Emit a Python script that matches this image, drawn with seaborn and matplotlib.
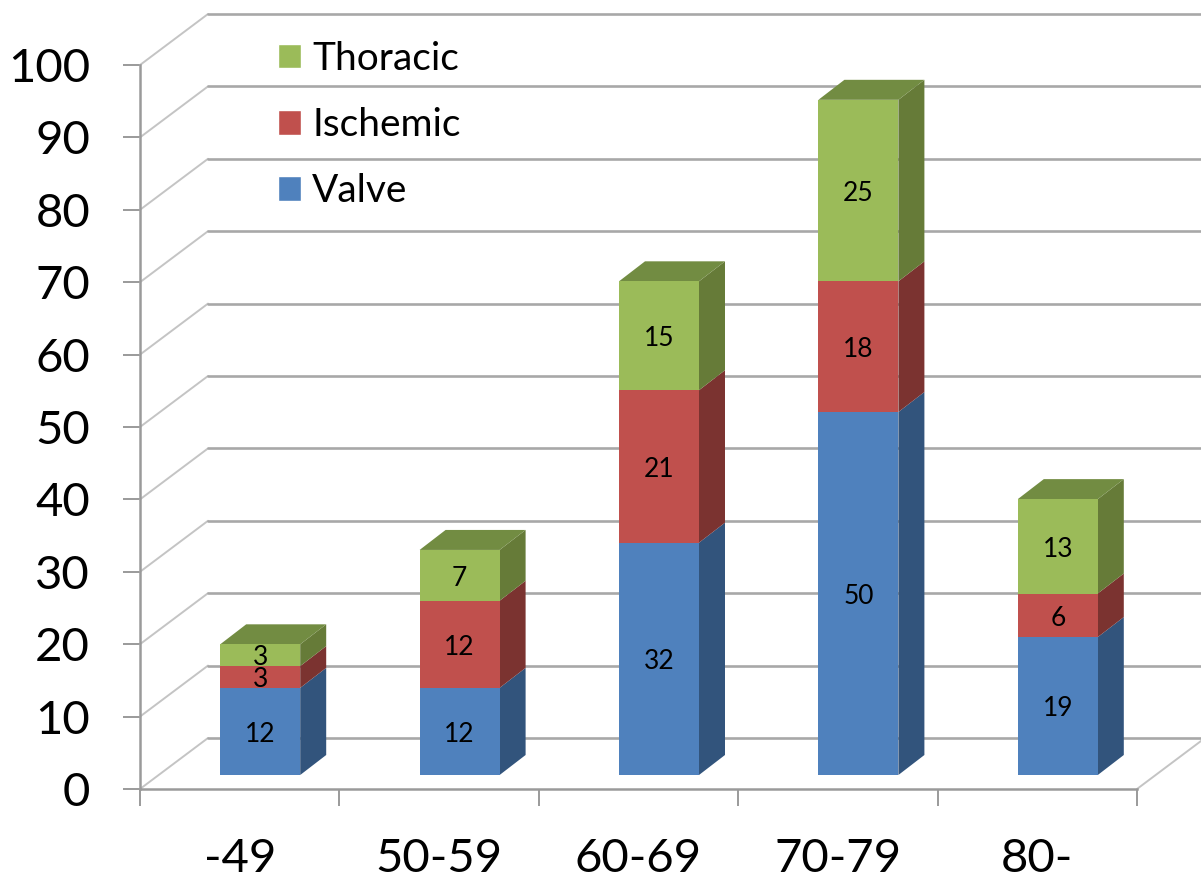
import matplotlib
matplotlib.use("Agg")
import matplotlib.pyplot as plt
import numpy as np
import pandas as pd
import seaborn as sns
from matplotlib.patches import Patch, Polygon

ages = ["-49", "50-59", "60-69", "70-79", "80-"]
valve = [12, 12, 32, 50, 19]
ischemic = [3, 12, 21, 18, 6]
thoracic = [3, 7, 15, 25, 13]
y_ticks = list(range(0, 101, 10))

series_names = ["Valve", "Ischemic", "Thoracic"]
series_values = [valve, ischemic, thoracic]
front_colors = ["#4F81BD", "#C0504D", "#9BBB59"]
side_colors = ["#32547C", "#7B3330", "#667B38"]
top_color = "#728C42"
grid_color = "#A8A8A8"
depth_color = "#C4C4C4"
axis_color = "#9A9A9A"

W, H = 1201, 880

sns.set_theme(style="white")
plt.rcParams["font.family"] = ["Lato", "DejaVu Sans"]

fig = plt.figure(figsize=(W / 100, H / 100), dpi=100)


def px_axes(left, right, bottom, top):
    return fig.add_axes([left / W, 1 - bottom / H, (right - left) / W, (bottom - top) / H])


# frame axes holds the ticks, front floor edge and the wall lines
frame = px_axes(140, 1137, 789, 65)
frame.set_xlim(-0.5, 4.5)
frame.set_ylim(0, 100)
frame.patch.set_alpha(0)
sns.despine(ax=frame, top=True, right=True)
for side in ["left", "bottom"]:
    frame.spines[side].set_color(axis_color)
    frame.spines[side].set_linewidth(1.8)

frame.set_yticks(y_ticks)
frame.tick_params(axis="y", length=12, width=1.4, color=axis_color, labelsize=34, pad=24,
                  labelcolor="black", left=True)
frame.set_xticks(range(len(ages)))
frame.set_xticklabels(ages)
frame.set_xticks(np.arange(-0.5, 5), minor=True)
frame.tick_params(axis="x", which="major", length=0, labelsize=34, pad=35, labelcolor="black")
frame.tick_params(axis="x", which="minor", length=12, width=1.4, color=axis_color, bottom=True)

wall_dx = 68 / 199.4
wall_dy = 51 / 7.24
for v in y_ticks:
    frame.plot([-0.5, -0.5 + wall_dx], [v, v + wall_dy], color=depth_color, lw=1.4,
               clip_on=False, zorder=1)
    frame.plot([-0.5 + wall_dx, 4.5 + wall_dx], [v + wall_dy, v + wall_dy], color=grid_color,
               lw=1.9, clip_on=False, zorder=1)
frame.plot([4.5, 4.5 + wall_dx], [0, wall_dy], color=depth_color, lw=1.4, clip_on=False, zorder=1)

# bars sit on their own axes, shifted into the box
ax = px_axes(160.5, 1157.5, 775, 49)
ax.patch.set_alpha(0)

df = pd.DataFrame({"age": ages, "Valve": valve, "Ischemic": ischemic, "Thoracic": thoracic})
bottom = np.zeros(len(ages))
for name, color in zip(series_names, front_colors):
    sns.barplot(data=df, x="age", y=name, color=color, bottom=bottom, width=80 / 199.4,
                saturation=1, ax=ax, linewidth=0, zorder=3)
    bottom = bottom + df[name].to_numpy()

ax.set_xlim(-0.5, 4.5)
ax.set_ylim(0, 100)
ax.axis("off")

bar_dx = 26 / 199.4
bar_dy = 20 / 7.26
for container, values, side in zip(ax.containers, series_values, side_colors):
    for patch in container:
        x0, y0 = patch.get_x(), patch.get_y()
        w, h = patch.get_width(), patch.get_height()
        ax.add_patch(Polygon([(x0 + w, y0), (x0 + w + bar_dx, y0 + bar_dy),
                              (x0 + w + bar_dx, y0 + h + bar_dy), (x0 + w, y0 + h)],
                             facecolor=side, edgecolor="none", zorder=2, clip_on=False))
    texts = ax.bar_label(container, labels=[str(v) for v in values], label_type="center",
                         fontsize=19, color="black", zorder=5)
    # labels sit a little low in the original
    for t in texts:
        t.xyann = (0, -2)

for patch in ax.containers[-1]:
    x0, w = patch.get_x(), patch.get_width()
    top = patch.get_y() + patch.get_height()
    ax.add_patch(Polygon([(x0, top), (x0 + w, top), (x0 + w + bar_dx, top + bar_dy),
                          (x0 + bar_dx, top + bar_dy)],
                         facecolor=top_color, edgecolor="none", zorder=2, clip_on=False))

handles = [Patch(facecolor=c, label=n) for c, n in zip(front_colors[::-1], series_names[::-1])]
leg = fig.legend(handles=handles, loc="upper left", bbox_to_anchor=(270 / W, 1 - 33 / H),
                 frameon=False, fontsize=28, labelcolor="black", handlelength=0.6,
                 handleheight=0.6, handletextpad=0.28, labelspacing=0.78, borderpad=0.2,
                 borderaxespad=0)

fig.savefig("out.png", dpi=100, facecolor="white")
